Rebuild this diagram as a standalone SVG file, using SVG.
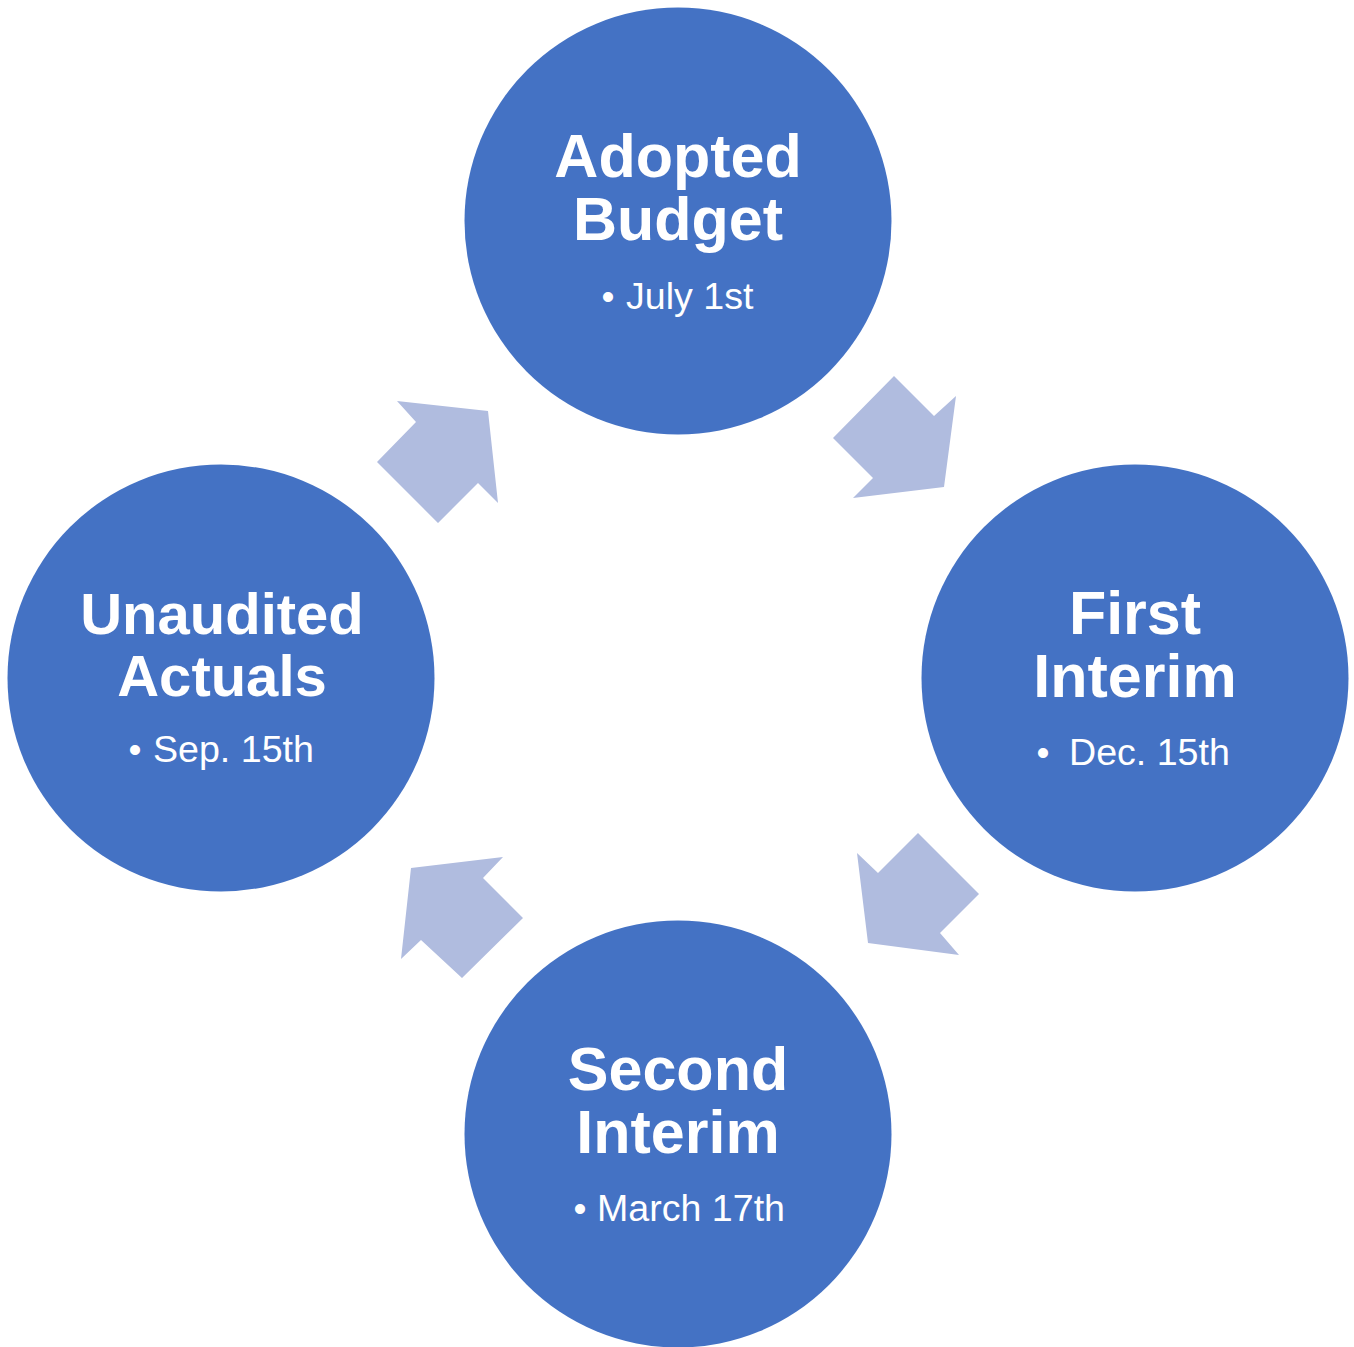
<svg xmlns="http://www.w3.org/2000/svg" width="1354" height="1347" viewBox="0 0 1354 1347">
<style>
.c{fill:#4472C4}
.a{fill:#B0BCDF}
.t{font-family:"Liberation Sans",Arial,sans-serif;font-weight:bold;font-size:61px;fill:#fff;text-anchor:middle}
.s{font-family:"Liberation Sans",Arial,sans-serif;font-size:37.6px;fill:#fff}
.b{font-family:"Liberation Sans",Arial,sans-serif;font-size:37px;fill:#fff;text-anchor:middle}
</style>
<rect width="1354" height="1347" fill="#fff"/>
<g id="connectors">
<polygon class="a" points="894,376 934,416 956,396 944,487 853,498 873,478 833,438"/>
<polygon class="a" points="918,833 979,894 940,933 959,955 868,943 857,853 878,873"/>
<polygon class="a" points="503,857 483,878 523,918 462,978 421,940 401,959 411,868"/>
<polygon class="a" points="397,401 488,411 498,503 478,483 438,523 377,462 416,422"/>
</g>
<g id="adopted">
<circle class="c" cx="678" cy="221" r="213.5"/>
<text class="t" x="678" y="177">Adopted</text>
<text class="t" x="678" y="240">Budget</text>
<text class="b" x="608" y="309">•</text>
<text class="s" x="626" y="309">July 1st</text>
</g>
<g id="first">
<circle class="c" cx="1135" cy="678" r="213.5"/>
<text class="t" x="1135" y="634">First</text>
<text class="t" x="1135" y="697">Interim</text>
<text class="b" x="1043" y="765">•</text>
<text class="s" x="1069" y="765">Dec. 15th</text>
</g>
<g id="second">
<circle class="c" cx="678" cy="1134" r="213.5"/>
<text class="t" x="678" y="1090">Second</text>
<text class="t" x="678" y="1153">Interim</text>
<text class="b" x="580" y="1221">•</text>
<text class="s" x="597" y="1221">March 17th</text>
</g>
<g id="unaudited">
<circle class="c" cx="221" cy="678" r="213.5"/>
<text class="t" x="222" y="634" style="font-size:58px">Unaudited</text>
<text class="t" x="222" y="696" style="font-size:58px">Actuals</text>
<text class="b" x="135" y="762">•</text>
<text class="s" x="153" y="762">Sep. 15th</text>
</g>
</svg>
